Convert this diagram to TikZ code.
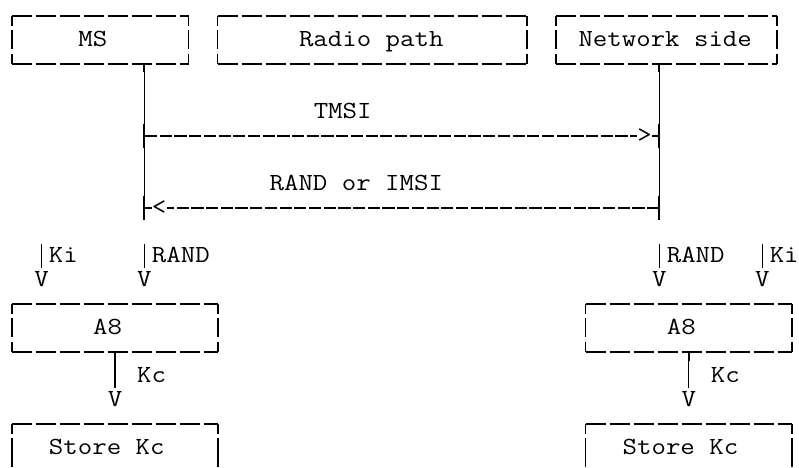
\documentclass[tikz,border=0pt]{standalone}
\usepackage{fontspec}
\setmonofont{Latin Modern Mono}[FakeStretch=1.14]
\usetikzlibrary{calc}
\newcommand\asciiside[2]{%
  \draw[bside] (#1.north #2) -- ($(#1.north #2)+(0,10)$);
  \draw[bside] ($(#1.north #2)+(0,14)$) -- ($(#1.north #2)+(0,33)$);
  \draw[bside] ($(#1.north #2)+(0,38)$) -- (#1.south #2);}
\newcommand\closedbox[1]{%
  \draw[bdash] (#1.north west) -- (#1.north east);
  \draw[bdash] (#1.south west) -- (#1.south east);
  \asciiside{#1}{west}\asciiside{#1}{east}}
\newcommand\openside[2]{%
  \draw[bside] (#1.north #2) -- ($(#1.north #2)+(0,10)$);
  \draw[bside] ($(#1.north #2)+(0,14)$) -- (#1.south #2);}
\newcommand\openbox[1]{%
  \draw[bdash] (#1.north west) -- (#1.north east);
  \openside{#1}{west}\openside{#1}{east}}
\begin{document}
\begin{tikzpicture}[x=1pt,y=-1pt,
  txt/.style={font=\ttfamily\fontsize{24.6pt}{24.6pt}\selectfont, inner sep=0pt, anchor=base west},
  boxarea/.style={inner sep=0pt, draw=none},
  bdash/.style={line width=1.8pt, dash pattern=on 20pt off 4pt},
  bside/.style={line width=1.4pt},
  life/.style={line width=1.3pt},
  stub/.style={line width=1.9pt},
  adash/.style={line width=1.8pt, dash pattern=on 12.2pt off 2.5pt},
]
\fill[white] (0,0) rectangle (799,467);
\useasboundingbox (0,0) rectangle (799,467);

% top boxes
\node[boxarea, minimum width=176.52pt, minimum height=48pt] (ms) at (100.26,40) {};
\node[boxarea, minimum width=308.91pt, minimum height=48pt] (radio) at (372.395,40) {};
\node[boxarea, minimum width=220.65pt, minimum height=48pt] (net) at (666.595,40) {};
\closedbox{ms}\closedbox{radio}\closedbox{net}
\node[txt] (mst) at (78.2,46.5) {MS};
\node[txt] (radiot) at (298.85,46.5) {Radio path};
\node[txt] (nett) at (578.34,46.5) {Network side};

% lifelines
\coordinate (msb) at (144.39,64);
\coordinate (mse) at (144.39,220);
\coordinate (nwb) at (659.24,64);
\coordinate (nwe) at (659.24,220);
\draw[life] (msb) -- (mse);
\draw[life] (nwb) -- (nwe);
\foreach \lx in {144.39,659.24}{
  \draw[stub] (\lx,64) -- (\lx,72);
  \draw[stub] (\lx,124) -- (\lx,148);
  \draw[stub] (\lx,196) -- (\lx,220);
}

% TMSI message
\node[txt] (tmsi) at (313.56,118.5) {TMSI};
\node[txt] (gt) at (637.18,142.5) {>};
\coordinate (a1s) at (145,136);
\coordinate (a1e) at (659.24,136);
\draw[adash] (a1s) -- (gt.west |- a1s);
\draw[life] (gt.east |- a1e) -- (a1e);

% RAND or IMSI message
\node[txt] (randimsi) at (269.43,190.5) {RAND or IMSI};
\node[txt] (lt) at (151.75,214.5) {<};
\coordinate (a2s) at (659.24,208);
\coordinate (a2e) at (144.39,208);
\draw[adash] (a2s) -- (lt.east |- a2s);
\draw[life] (lt.west |- a2e) -- (a2e);

% inputs to A8
\node[txt] (kil) at (48.78,262.5) {Ki};
\node[txt] (randl) at (151.75,262.5) {RAND};
\node[txt] (randr) at (666.6,262.5) {RAND};
\node[txt] (kir) at (769.57,262.5) {Ki};
\node[txt] (v1) at (34.07,286.5) {V};
\node[txt] (v2) at (137.04,286.5) {V};
\node[txt] (v3) at (651.89,286.5) {V};
\node[txt] (v4) at (754.86,286.5) {V};
\foreach \vx in {41.42,144.39,659.24,762.21}{
  \draw[life] (\vx,244) -- (\vx,268);
}

% A8 boxes
\node[boxarea, minimum width=205.94pt, minimum height=48pt] (a8l) at (114.97,328) {};
\node[boxarea, minimum width=205.94pt, minimum height=48pt] (a8r) at (688.66,328) {};
\closedbox{a8l}\closedbox{a8r}
\node[txt] (a8lt) at (92.91,334.5) {A8};
\node[txt] (a8rt) at (666.6,334.5) {A8};

% Kc outputs
\coordinate (kcle) at (114.97,388);
\coordinate (kcre) at (688.66,388);
\draw[life] (a8l.south) -- (kcle);
\draw[life] (a8r.south) -- (kcre);
\draw[stub] (a8l.south) -- ++(0,9);
\draw[stub] (a8r.south) -- ++(0,9);
\node[txt] (kcl) at (137.04,382.5) {Kc};
\node[txt] (kcr) at (710.73,382.5) {Kc};
\node[txt] (v5) at (107.62,406.5) {V};
\node[txt] (v6) at (681.31,406.5) {V};

% Store Kc boxes (cut off at the bottom)
\node[boxarea, minimum width=205.94pt, minimum height=43pt] (stl) at (114.97,445.5) {};
\node[boxarea, minimum width=205.94pt, minimum height=43pt] (str) at (688.66,445.5) {};
\openbox{stl}\openbox{str}
\node[txt] (stlt) at (48.78,454.5) {Store Kc};
\node[txt] (strt) at (622.47,454.5) {Store Kc};
\end{tikzpicture}
\end{document}
